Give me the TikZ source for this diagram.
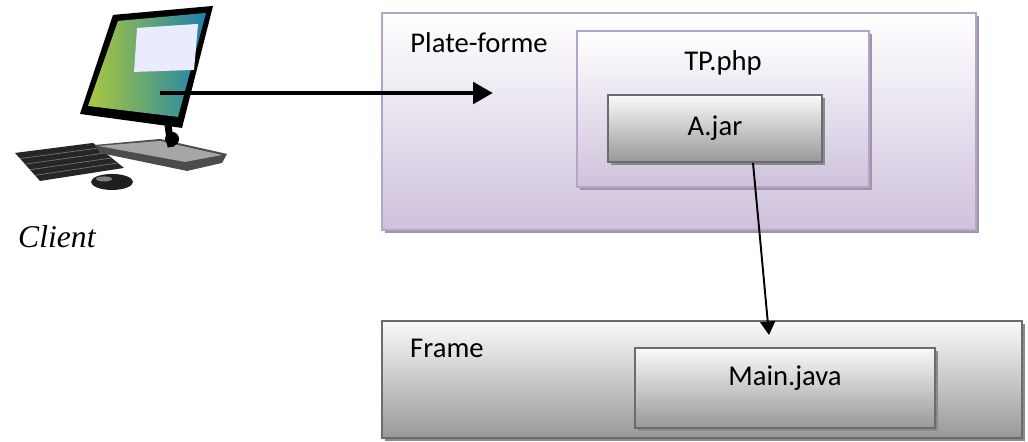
\documentclass[tikz,border=0pt]{standalone}
\usepackage{fontspec}
\setmainfont{Carlito}
\newfontfamily\clientfont{Liberation Serif}
\usetikzlibrary{arrows.meta,shadows,calc}
\definecolor{lilac}{RGB}{206,194,220}
\definecolor{lilacline}{RGB}{180,164,200}
\definecolor{lilacshadow}{RGB}{160,148,172}
\definecolor{boxtop}{RGB}{250,250,250}
\definecolor{boxgray}{RGB}{152,152,152}
\definecolor{boxline}{RGB}{108,108,108}
\definecolor{grayshadow}{RGB}{138,138,138}
\definecolor{screenblue}{RGB}{30,130,175}
\definecolor{screengreen}{RGB}{170,200,60}
\tikzstyle{lilacbox} = [rectangle, draw = lilacline, line width = 0.9pt, top color = white, bottom color = lilac, drop shadow = {shadow xshift = 0.06cm, shadow yshift = -0.06cm, fill = lilacshadow, opacity = 1}]
\tikzstyle{graybox} = [rectangle, draw = boxline, line width = 1.1pt, top color = boxtop, bottom color = boxgray, drop shadow = {shadow xshift = 0.05cm, shadow yshift = -0.05cm, fill = grayshadow, opacity = 1}]
\tikzstyle{arrow} = [line width = 2.8pt, -{Triangle[length = 0.4cm, width = 0.42cm]}]
\tikzstyle{link} = [line width = 1.1pt, -{Triangle[length = 0.27cm, width = 0.3cm]}]

\begin{document}
\begin{tikzpicture}[every node/.style={font=\fontsize{16.3}{20}\selectfont}]
    \useasboundingbox (0,0) rectangle (20.56,8.82);

    % the client machine
    \begin{scope}[x=0.02cm, y=-0.02cm, shift={(0,-441)}]
        \fill [black!85] (15,153) -- (93,143) -- (124,168) -- (40,181) -- cycle;
        \foreach \k in {0.2,0.4,0.6,0.8}
            \draw [black!55, line width=0.4pt] ($(15,153)!\k!(40,181)$) -- ($(93,143)!\k!(124,168)$);
        \fill [black!88] (112,182) ellipse [x radius=21, y radius=8];
        \fill [black!50] (104,179) ellipse [x radius=8, y radius=2.5];
        \fill [black!70] (95,145) -- (160,139) -- (227,154) -- (222,163) -- (187,171) -- (100,153) -- cycle;
        \fill [black!35] (98,146) -- (160,141) -- (222,155) -- (185,162) -- cycle;
        \draw [black, line width=4pt] (168,125) -- (171,147);
        \fill [black] (172,139) circle [radius=7];
        \fill [black] (113,15) -- (213,6) -- (182,128) -- (80,114) -- cycle;
        \shade [left color=screengreen, right color=screenblue] (118,21) -- (206,13) -- (178,117) -- (88,106) -- cycle;
        \fill [white!92!blue] (137,28) -- (198,24) -- (194,70) -- (134,72) -- cycle;
    \end{scope}
    \node (client) [anchor=base west, font=\clientfont\itshape\fontsize{18}{22}\selectfont] at (0.24,3.88) {Client};

    % boxes
    \node (platform) [lilacbox, minimum width = 11.88cm, minimum height = 4.34cm] at (13.58,6.39) {};
    \node (platform-name) [anchor=base west] at ([xshift=0.46cm, yshift=-0.80cm]platform.north west) {Plate-forme};
    \node (tpphp) [lilacbox, minimum width = 5.84cm, minimum height = 3.12cm] at (14.46,6.64) {};
    \node (tpphp-name) [anchor=base] at ([yshift=-0.80cm]tpphp.north) {TP.php};
    \node (ajar) [graybox, minimum width = 4.28cm, minimum height = 1.34cm] at (14.30,6.25) {A.jar};

    \node (frame) [graybox, minimum width = 12.8cm, minimum height = 2.34cm] at (14.04,1.23) {};
    \node (frame-name) [anchor=base west] at ([xshift=0.46cm, yshift=-0.74cm]frame.north west) {Frame};
    \node (main) [graybox, minimum width = 6cm, minimum height = 1.6cm] at (15.70,1.06) {};
    \node (main-name) [anchor=base] at ([yshift=-0.76cm]main.north) {Main.java};

    % connectors
    \coordinate (screen) at (3.20,6.96);
    \coordinate (entry) at (9.86,6.96);
    \coordinate (jar-out) at ([xshift=0.76cm]ajar.south);
    \coordinate (frame-in) at (15.38,2.12);
    \draw [arrow] (screen) -- (entry);
    \draw [link] (jar-out) -- (frame-in);
\end{tikzpicture}
\end{document}
